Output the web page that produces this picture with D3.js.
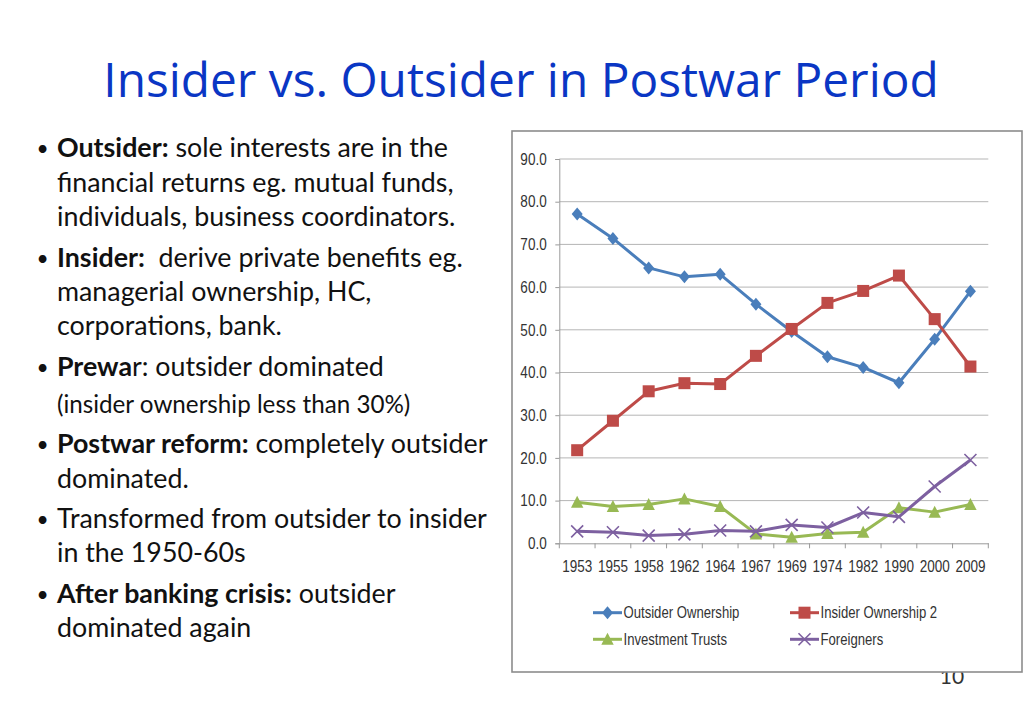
<!DOCTYPE html>
<html><head><meta charset="utf-8">
<script src="https://cdn.jsdelivr.net/npm/d3@7/dist/d3.min.js"></script>
<style>
html,body{margin:0;padding:0;background:#fff;}
svg{display:block;}
</style></head>
<body>
<svg id="c" width="1024" height="708"></svg>
<script>
const years = ["1953","1955","1958","1962","1964","1967","1969","1974","1982","1990","2000","2009"];
const outsider = [77.1,71.4,64.5,62.4,63.0,56.0,49.6,43.7,41.2,37.6,47.8,59.0];
const insider = [21.8,28.7,35.6,37.5,37.3,43.9,50.2,56.3,59.1,62.7,52.5,41.4];
const trusts = [9.6,8.6,9.1,10.4,8.6,2.2,1.4,2.3,2.6,8.3,7.3,9.1];
const foreigners = [2.8,2.6,1.8,2.1,3.0,2.8,4.3,3.7,7.2,6.2,13.3,19.5];
const yTicks = [0,10,20,30,40,50,60,70,80,90];
const seriesNames = ["Outsider Ownership","Insider Ownership 2","Investment Trusts","Foreigners"];

const svg = d3.select("#c");
const bodyFont = "Lato, 'Open Sans', sans-serif";
const chartFont = "'Liberation Sans', Arial, sans-serif";
const narrow = 0.82;

// Title
svg.append("text").attr("x",521).attr("y",97).attr("text-anchor","middle")
  .attr("font-family","'Open Sans', 'Noto Sans', sans-serif").attr("font-size",47.8)
  .attr("fill","#0a36c4").text("Insider vs. Outsider in Postwar Period");

// Page number (partly behind the chart frame)
svg.append("text").attr("x",952).attr("y",684).attr("text-anchor","middle")
  .attr("font-family",bodyFont).attr("font-size",21).attr("fill","#333").text("10");

// Bullets
const bullets = [
  {y:157, bullet:true, size:26.8, parts:[["Outsider:",true],[" sole interests are in the",false]]},
  {y:192, size:26.8, parts:[["financial returns eg. mutual funds,",false]]},
  {y:226, size:26.8, parts:[["individuals, business coordinators.",false]]},
  {y:267, bullet:true, size:26.8, parts:[["Insider:",true],["  derive private benefits eg.",false]]},
  {y:301, size:26.8, parts:[["managerial ownership, HC,",false]]},
  {y:335, size:26.8, parts:[["corporations, bank.",false]]},
  {y:376, bullet:true, size:26.8, parts:[["Prewa",true],["r: outsider dominated",false]]},
  {y:413, size:24.2, parts:[["(insider ownership less than 30%)",false]]},
  {y:453, bullet:true, size:26.8, parts:[["Postwar reform:",true],[" completely outsider",false]]},
  {y:488, size:26.8, parts:[["dominated.",false]]},
  {y:528, bullet:true, size:26.8, parts:[["Transformed from outsider to insider",false]]},
  {y:562, size:26.8, parts:[["in the 1950-60s",false]]},
  {y:603, bullet:true, size:26.8, parts:[["After banking crisis:",true],[" outsider",false]]},
  {y:637, size:26.8, parts:[["dominated again",false]]}
];
const bg = svg.append("g").attr("font-family",bodyFont).attr("fill","#111");
bullets.forEach(b=>{
  if(b.bullet) bg.append("text").attr("x",36.5).attr("y",b.y-1).attr("font-size",21).text("•");
  const t = bg.append("text").attr("x",57).attr("y",b.y).attr("font-size",b.size).attr("xml:space","preserve");
  b.parts.forEach(p=>t.append("tspan").attr("font-weight",p[1]?"bold":"normal").text(p[0]));
});

// Chart frame
svg.append("rect").attr("x",512).attr("y",131).attr("width",510).attr("height",541)
  .attr("fill","#fff").attr("stroke","#8c8c8c").attr("stroke-width",1.6);

const x0=559.3, x1=988.3, yTop=159, yBot=543.3;
const x = d3.scaleBand().domain(years).range([x0,x1]);
const y = d3.scaleLinear().domain([0,90]).range([yBot,yTop]);
const cx = d => x(d)+x.bandwidth()/2;

const g = svg.append("g").attr("font-family",chartFont).attr("font-size",16).attr("fill","#333");

// Gridlines
g.append("g").selectAll("line").data(yTicks.filter(v=>v>0)).join("line")
  .attr("x1",x0).attr("x2",x1).attr("y1",d=>y(d)).attr("y2",d=>y(d))
  .attr("stroke","#b5b5b5").attr("stroke-width",1);

function narrowText(sel){
  sel.each(function(){
    const t = d3.select(this);
    const xv = +t.attr("x") || 0, yv = +t.attr("y") || 0;
    t.attr("x",0).attr("y",0).attr("transform",`translate(${xv},${yv}) scale(${narrow},1)`);
  });
}

// Y axis
const ya = g.append("g").attr("transform",`translate(${x0},0)`)
  .call(d3.axisLeft(y).tickValues(yTicks).tickFormat(d3.format(".1f")).tickSize(4).tickPadding(8.6));
ya.select(".domain").attr("stroke","#9a9a9a");
ya.selectAll(".tick line").attr("stroke","#9a9a9a");
ya.selectAll("text").attr("font-family",chartFont).attr("font-size",16.5).attr("fill","#333").call(narrowText);

// X axis
const xa = g.append("g").attr("transform",`translate(0,${yBot})`)
  .call(d3.axisBottom(x).tickSize(0).tickPadding(17));
xa.select(".domain").attr("stroke","#9a9a9a");
xa.selectAll("text").attr("font-family",chartFont).attr("font-size",16.5).attr("fill","#333").call(narrowText);
// tick marks at band boundaries
const bounds = years.map(d=>x(d)).concat([x1]);
g.append("g").selectAll("line").data(bounds).join("line")
  .attr("x1",d=>d).attr("x2",d=>d).attr("y1",yBot).attr("y2",yBot+5)
  .attr("stroke","#9a9a9a");

const colors = ["#4a7ebb","#be4b48","#98b954","#7d60a0"];
const data = [outsider, insider, trusts, foreigners];
const line = d3.line().x((d,i)=>cx(years[i])).y(d=>y(d));

function marker(sel, k){
  const c = colors[k];
  if(k===0){
    sel.append("path").attr("d","M0,-6.5L5.5,0L0,6.5L-5.5,0Z").attr("fill",c);
  } else if(k===1){
    sel.append("rect").attr("x",-6).attr("y",-6).attr("width",12).attr("height",12).attr("fill",c);
  } else if(k===2){
    sel.append("path").attr("d","M0,-6.5L6.2,5.5L-6.2,5.5Z").attr("fill",c);
  } else {
    sel.append("path").attr("d","M-6,-6L6,6M-6,6L6,-6").attr("stroke",c).attr("stroke-width",1.6).attr("fill","none");
  }
}

data.forEach((vals,k)=>{
  const sg = g.append("g");
  sg.append("path").datum(vals).attr("d",line).attr("fill","none")
    .attr("stroke",colors[k]).attr("stroke-width",3).attr("stroke-linejoin","round");
  vals.forEach((v,i)=>{
    const m = sg.append("g").attr("transform",`translate(${cx(years[i])},${y(v)})`);
    marker(m,k);
  });
});

// Legend
const legPos = [[593,612.7],[790,612.7],[593,639.3],[790,639.3]];
seriesNames.forEach((n,k)=>{
  const [lx,ly] = legPos[k];
  const lg = g.append("g");
  lg.append("line").attr("x1",lx).attr("x2",lx+29).attr("y1",ly).attr("y2",ly)
    .attr("stroke",colors[k]).attr("stroke-width",3);
  const m = lg.append("g").attr("transform",`translate(${lx+14.5},${ly})`);
  marker(m,k);
  lg.append("text").attr("transform",`translate(${lx+30.5},${ly}) scale(${narrow},1)`).attr("dy","0.35em")
    .attr("font-size",16).attr("fill","#333").text(n);
});
</script>
</body></html>
